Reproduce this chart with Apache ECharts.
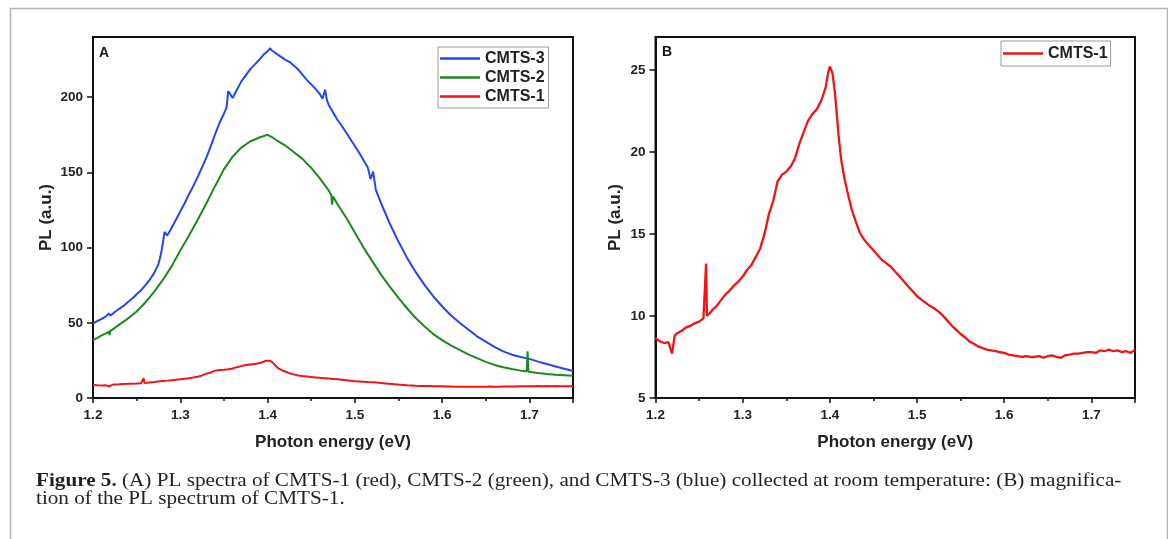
<!DOCTYPE html>
<html>
<head>
<meta charset="utf-8">
<script src="https://cdn.jsdelivr.net/npm/echarts@6/dist/echarts.min.js"></script>
<style>
html,body{margin:0;padding:0;background:#fff;}
#c{width:1168px;height:539px;}
</style>
</head>
<body>
<div id="c"></div>
<script>
// ---- data ----
const xTicks = ['1.2','1.3','1.4','1.5','1.6','1.7'];
const seriesNames = ['CMTS-3','CMTS-2','CMTS-1'];

const blueE = [1.200,1.205,1.210,1.215,1.218,1.220,1.225,1.230,1.235,1.240,1.245,1.250,1.255,1.260,1.265,1.270,1.275,1.278,1.280,1.282,1.285,1.290,1.295,1.300,1.305,1.310,1.315,1.320,1.325,1.330,1.335,1.340,1.345,1.350,1.353,1.355,1.360,1.365,1.370,1.375,1.380,1.385,1.390,1.395,1.400,1.403,1.405,1.410,1.415,1.420,1.425,1.430,1.435,1.440,1.445,1.450,1.455,1.460,1.463,1.466,1.468,1.470,1.475,1.480,1.485,1.490,1.495,1.500,1.505,1.510,1.515,1.518,1.521,1.524,1.530,1.540,1.550,1.560,1.570,1.580,1.590,1.600,1.610,1.620,1.630,1.640,1.650,1.660,1.670,1.680,1.690,1.700,1.710,1.720,1.730,1.740,1.750];
const blueV = [49.5,51.2,52.6,54.3,56.2,54.8,57.2,59.3,61.2,63.8,66.1,69.0,71.6,75.0,78.6,83.0,89.0,96.0,103.0,110.5,108.0,113.0,118.5,124.0,129.5,135.5,141.0,147.0,153.5,160.0,167.5,175.5,183.0,189.0,193.0,204.0,199.5,205.0,210.5,214.5,218.5,221.5,224.5,228.0,230.5,232.5,231.0,229.0,227.0,225.0,223.5,221.0,218.5,215.0,211.5,208.5,205.5,202.0,199.0,205.0,198.0,195.0,190.0,185.0,181.0,176.5,172.0,167.5,163.0,158.0,153.0,145.5,150.5,138.5,129.5,116.0,104.0,93.0,83.5,75.0,67.5,61.0,55.0,50.0,45.5,41.0,37.5,34.0,31.0,28.8,27.2,26.0,24.2,22.6,21.0,19.5,18.0];

const greenE = [1.200,1.205,1.210,1.215,1.218,1.219,1.220,1.225,1.230,1.240,1.250,1.260,1.270,1.280,1.290,1.300,1.310,1.320,1.330,1.340,1.350,1.360,1.370,1.380,1.390,1.400,1.402,1.405,1.410,1.420,1.430,1.440,1.450,1.460,1.470,1.473,1.474,1.475,1.480,1.490,1.500,1.510,1.520,1.530,1.540,1.550,1.560,1.570,1.580,1.590,1.600,1.610,1.620,1.630,1.640,1.650,1.660,1.670,1.680,1.690,1.697,1.698,1.699,1.700,1.710,1.720,1.730,1.740,1.750];
const greenV = [38.5,40.0,41.6,43.0,44.2,41.8,44.6,46.6,48.8,52.8,57.5,63.5,70.5,78.5,87.5,98.0,108.0,118.5,129.5,141.0,152.0,160.5,166.5,170.5,173.0,175.0,175.5,173.5,171.5,168.0,163.5,159.0,153.0,146.0,138.0,135.0,128.5,134.0,129.0,120.0,110.0,100.0,91.0,82.0,74.0,66.5,59.5,53.0,47.5,42.5,38.5,35.0,32.0,29.0,26.5,24.0,22.0,20.5,19.3,18.2,17.6,31.0,17.4,17.2,16.6,16.0,15.5,15.2,14.8];

const redE = [1.200,1.205,1.210,1.215,1.219,1.222,1.225,1.230,1.235,1.240,1.245,1.250,1.255,1.257,1.258,1.259,1.262,1.265,1.270,1.275,1.280,1.285,1.290,1.295,1.300,1.305,1.310,1.315,1.320,1.325,1.330,1.335,1.340,1.345,1.350,1.355,1.360,1.365,1.370,1.375,1.380,1.385,1.390,1.395,1.398,1.400,1.403,1.406,1.410,1.413,1.417,1.420,1.425,1.430,1.435,1.440,1.445,1.450,1.455,1.460,1.465,1.470,1.475,1.480,1.485,1.490,1.495,1.500,1.505,1.510,1.515,1.520,1.525,1.530,1.535,1.540,1.545,1.550,1.555,1.560,1.565,1.570,1.575,1.580,1.585,1.590,1.595,1.600,1.605,1.610,1.615,1.620,1.625,1.630,1.635,1.640,1.645,1.650,1.655,1.660,1.665,1.670,1.675,1.680,1.685,1.690,1.695,1.700,1.705,1.710,1.715,1.720,1.725,1.730,1.735,1.740,1.745,1.750];
const redV = [8.65,8.45,8.35,8.40,7.70,8.80,8.95,9.10,9.30,9.40,9.55,9.65,9.85,9.95,13.2,10.0,10.15,10.35,10.6,10.95,11.3,11.55,11.85,12.1,12.4,12.8,13.1,13.6,14.1,15.0,16.2,17.0,18.2,18.6,18.8,19.1,19.6,20.5,21.2,21.9,22.3,22.6,23.1,23.9,24.8,25.2,24.8,23.5,21.0,19.5,18.3,17.6,16.5,15.7,15.0,14.6,14.3,14.0,13.7,13.4,13.2,13.0,12.7,12.4,12.1,11.8,11.5,11.2,11.0,10.8,10.6,10.45,10.25,10.0,9.7,9.4,9.15,8.9,8.7,8.45,8.3,8.15,8.05,7.95,7.9,7.85,7.8,7.75,7.65,7.6,7.55,7.5,7.55,7.5,7.5,7.55,7.45,7.55,7.6,7.5,7.45,7.6,7.65,7.7,7.7,7.75,7.8,7.8,7.75,7.9,7.85,7.95,7.85,7.9,7.8,7.85,7.75,7.95];

const pair = (E, V) => E.map((e, i) => [e, V[i]]);

const FONT = 'Liberation Sans, Arial, sans-serif';
const SERIF = 'Liberation Serif, Times New Roman, serif';
const BLUE = '#2346f2', GREEN = '#1b8a1b', RED = '#f01414';

function xAxisCfg(gi) {
  return {
    gridIndex: gi, type: 'value', min: 1.2, max: 1.75, interval: 0.1,
    name: 'Photon energy (eV)', nameLocation: 'middle', nameGap: 36,
    nameTextStyle: {fontFamily: FONT, fontWeight: 'bold', fontSize: 17, color: '#222'},
    axisLine: {show: true, onZero: false, lineStyle: {color: '#111', width: 2}},
    axisTick: {show: true, inside: false, length: 5, lineStyle: {color: '#111', width: 1.5}},
    minorTick: {show: true, splitNumber: 2, length: 3, lineStyle: {color: '#111', width: 1.5}},
    splitLine: {show: false}, minorSplitLine: {show: false},
    axisLabel: {margin: 10, showMaxLabel: false, fontFamily: FONT, fontWeight: 'bold', fontSize: 13.5, color: '#222',
      formatter: v => v.toFixed(1)}
  };
}
function yAxisCfg(gi, min, max, interval, gap) {
  return {
    gridIndex: gi, type: 'value', min: min, max: max, interval: interval,
    name: 'PL (a.u.)', nameLocation: 'middle', nameGap: gap, nameRotate: 90,
    nameTextStyle: {fontFamily: FONT, fontWeight: 'bold', fontSize: 17, color: '#222'},
    axisLine: {show: true, onZero: false, lineStyle: {color: '#111', width: 2}},
    axisTick: {show: true, inside: false, length: 6, lineStyle: {color: '#111', width: 1.5}},
    splitLine: {show: false},
    axisLabel: {margin: 10, showMaxLabel: false, fontFamily: FONT, fontWeight: 'bold', fontSize: 13.5, color: '#222'}
  };
}
function lineSeries(name, color, data, xi, yi, w) {
  return {
    name: name, type: 'line', xAxisIndex: xi, yAxisIndex: yi, data: data,
    showSymbol: false, symbol: 'none', smooth: false, animation: false,
    lineStyle: {color: color, width: w}, itemStyle: {color: color}, clip: true
  };
}

const chart = echarts.init(document.getElementById('c'), null, {renderer: 'canvas'});
chart.setOption({
  backgroundColor: '#fff',
  animation: false,
  grid: [
    {left: 93, top: 37, width: 480, height: 361, show: true, borderColor: '#111', borderWidth: 2, backgroundColor: 'transparent'},
    {left: 655.5, top: 37, width: 479.5, height: 361, show: true, borderColor: '#111', borderWidth: 2, backgroundColor: 'transparent'}
  ],
  xAxis: [xAxisCfg(0), xAxisCfg(1)],
  yAxis: [yAxisCfg(0, 0, 240, 50, 38), yAxisCfg(1, 5, 27, 5, 32)],
  legend: [
    {data: seriesNames, orient: 'vertical', left: 438, top: 47, icon: 'rect', itemWidth: 40, itemHeight: 2.5, itemGap: 2,
      padding: [3, 4, 3, 2], borderColor: '#9a9a9a', borderWidth: 1, backgroundColor: '#fff', selectedMode: false,
      textStyle: {fontFamily: FONT, fontWeight: 'bold', fontSize: 16, color: '#222', lineHeight: 17}},
    {data: ['CMTS-1'], orient: 'vertical', left: 1001, top: 41, icon: 'rect', itemWidth: 40, itemHeight: 2.5, itemGap: 2,
      padding: [4, 3, 4, 2], borderColor: '#9a9a9a', borderWidth: 1, backgroundColor: '#fff', selectedMode: false,
      textStyle: {fontFamily: FONT, fontWeight: 'bold', fontSize: 16, color: '#222', lineHeight: 17}}
  ],
  series: [
    lineSeries('CMTS-3', BLUE, pair(blueE, blueV), 0, 0, 2),
    lineSeries('CMTS-2', GREEN, pair(greenE, greenV), 0, 0, 2),
    lineSeries('CMTS-1', RED, pair(redE, redV), 0, 0, 2),
    lineSeries('CMTS-1', RED, pair(redE, redV), 1, 1, 2.3)
  ],
  graphic: [
    {type: 'rect', left: 8, top: 6, silent: true, z: -10,
      shape: {width: 1157, height: 560}, style: {fill: 'none', stroke: '#b4b4b4', lineWidth: 1.5}},
    {type: 'text', left: 99, top: 46, style: {text: 'A', font: 'bold 14px ' + FONT, fill: '#111'}},
    {type: 'text', left: 662, top: 45.5, style: {text: 'B', font: 'bold 14px ' + FONT, fill: '#111'}},
    {type: 'text', x: 36, y: 472, scaleX: 1.176, scaleY: 1, style: {
      text: '{b|Figure 5.} (A) PL spectra of CMTS-1 (red), CMTS-2 (green), and CMTS-3 (blue) collected at room temperature: (B) magnifica-\ntion of the PL spectrum of CMTS-1.',
      fontFamily: SERIF, fontSize: 18, lineHeight: 18.5, fill: '#231f20',
      rich: {b: {fontFamily: SERIF, fontSize: 18, fontWeight: 'bold', fill: '#231f20', lineHeight: 18.5}}
    }}
  ]
});
</script>
</body>
</html>
